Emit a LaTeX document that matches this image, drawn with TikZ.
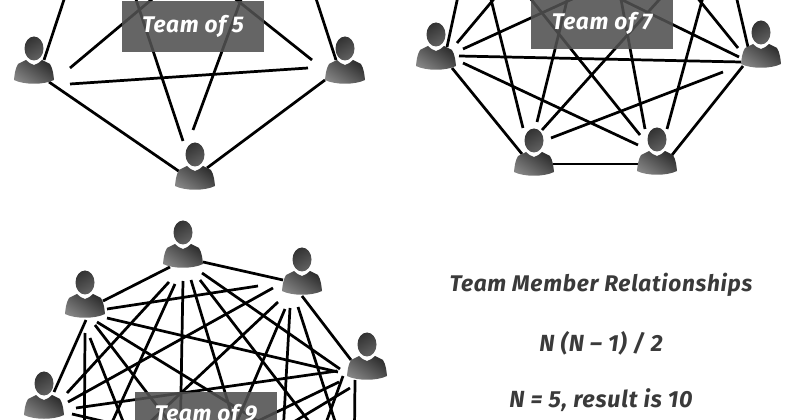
\documentclass[tikz,border=0pt]{standalone}
\usepackage{fontspec}
\setmainfont[LetterSpace=3.2]{Fira Sans}
\usetikzlibrary{shadings}
\definecolor{boxgray}{HTML}{505050}
\definecolor{textgray}{HTML}{3A3A3A}
\tikzset{
  person/.style={circle,inner sep=0pt,minimum size=30pt},
  link/.style={line width=2.05pt,black},
  teambox/.style={fill=boxgray,fill opacity=.88,text opacity=1,text=white,font=\fontsize{17}{19}\selectfont\bfseries\itshape,minimum width=106.5pt,minimum height=38.5pt,inner sep=0pt},
  caption/.style={text=textgray,font=\fontsize{17}{19}\selectfont\bfseries\itshape},
  bigcaption/.style={text=textgray,font=\fontsize{17.5}{19}\selectfont\bfseries\itshape},
  personicon/.pic={
    \shade[left color=black!80,right color=black!62,shading angle=30] (0,-11.5) ellipse (9.5 and 12);
    \shade[left color=black!82,right color=black!48,shading angle=-35]
      (-8,0) .. controls (-6,3) and (-3,3.5) .. (0,5) .. controls (3,3.5) and (6,3) .. (8,0)
      -- (16,4) .. controls (19,9) and (19.5,15) .. (20,20)
      .. controls (10,25) and (-10,25) .. (-20,20)
      .. controls (-19.5,15) and (-19,9) .. (-16,4) -- cycle;
  }
}
\begin{document}
\begin{tikzpicture}[x=.75pt,y=-.75pt,line join=round]
\useasboundingbox (0,0) rectangle (800,420);
\clip (0,0) rectangle (800,420);
% people, the far ones lie beyond the edge of the picture
\foreach \n/\x/\y in {a1/34/60,a2/100/-109,a3/281/-109,a4/345/60,a5/195/166,
	b1/436/46,b2/473/-73,b3/598/-125,b4/721/-69,b5/761/44,b6/657/151,b7/534/152,
	c1/44/395,c2/85/294,c3/183/244,c4/302/271,c5/367/356,c6/354/480,c7/276/561,c8/178/560,c9/84/484}
{
	\node[person] (\n) at (\x,\y) {};
}
% links: from node / shift / to node / shift
\foreach \p/\ax/\ay/\q/\bx/\by in {
	a1/10/0/a2/0/0,a1/36/8/a3/0/0,a1/36/24/a4/-37/8,a1/15/22/a5/-15/6,
	a5/-12/-25/a2/0/0,a5/-2/-36/a3/0/0,a5/12/2/a4/-20/20,a4/-33/0/a2/0/0,a4/-9/0/a3/0/0,
	b1/11/1/b2/0/0,b1/21/-3/b3/0/0,b1/27/3/b4/0/0,b1/23/10/b5/-20/18,b1/27/17/b6/-19/-6,b1/16/22/b7/-12/2,
	b5/-22/13/b2/0/0,b5/-23/4/b3/0/0,b5/-13/3/b4/0/0,b5/-18/22/b6/15/4,b5/-38/28/b7/17/-14,
	b7/-11/-24/b2/0/0,b7/3/-30/b3/0/0,b7/8/-22/b4/0/0,b7/19/12/b6/-19/13,
	b6/-12/-22/b3/0/0,b6/10/-22/b4/0/0,b6/-17/-16/b2/0/0,
	c1/10/-3/c2/1/26,c1/23/-2/c3/-14/38,c1/24/7/c4/-29/17,c1/32/13/c5/-30/15,c1/28/19/c6/0/0,
	c2/18/7/c3/-13/23,c2/22/15/c4/-44/15,c2/22/24/c5/-29/16,c2/12/28/c6/0/0,c2/10/31/c7/0/0,c2/5/44/c8/0/0,c2/0/39/c9/0/0,
	c3/20/18/c4/-19/9,c3/19/29/c5/-27/13,c3/17/36/c6/0/0,c3/8/36/c7/0/0,c3/0/37/c8/0/0,c3/-8/40/c9/0/0,
	c4/0/25/c5/-16/4,c4/-4/36/c6/0/0,c4/-12/37/c7/0/0,c4/-17/38/c8/0/0,c4/-24/31/c9/0/0,
	c5/-12/24/c6/0/0,c5/-24/20/c7/0/0,c5/-17/32/c8/-113/0,c5/-28/26/c9/43/0}
{
	\draw[link] ([shift={(\ax,\ay)}]\p.center) -- ([shift={(\bx,\by)}]\q.center);
}
\foreach \n in {a1,a4,a5,b1,b5,b6,b7,c1,c2,c3,c4,c5}
{
	\pic at (\n) {personicon};
}
\node[teambox] (box5) at (193,26.5) {Team of 5};
\node[teambox] (box7) at (602,23.5) {Team of 7};
\node[teambox,minimum height=34.5pt] (box9) at (206,415) {Team of 9};
\node[caption] (title) at (601,285) {Team Member Relationships};
\node[bigcaption] (formula) at (601,343) {N (N – 1) / 2};
\node[bigcaption] (result) at (601,400) {N = 5, result is 10};
\end{tikzpicture}
\end{document}
